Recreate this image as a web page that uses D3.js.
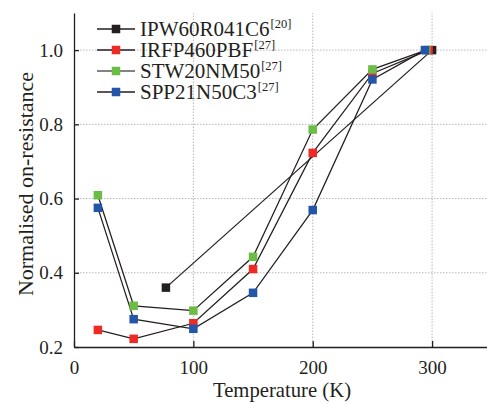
<!doctype html>
<html lang="en">
<head>
    <meta charset="utf-8">
    <title>Normalised on-resistance vs temperature</title>
    <script src="https://d3js.org/d3.v7.min.js"></script>
    <style>
        body { margin: 0; background: #fff; }
        svg text { font-family: "Liberation Serif", "DejaVu Serif", serif; fill: #231f20; }
        .grid line { stroke: #b8b8b8; stroke-width: 1; stroke-dasharray: 1.5,1.5; }
    </style>
</head>
<body>
<script>
    // Data
    const ipwTemp  = [77, 300];
    const ipwRes   = [0.36, 1.0];
    const irfpTemp = [20, 50, 100, 150, 200, 250, 297];
    const irfpRes  = [0.246, 0.222, 0.264, 0.41, 0.723, 0.937, 1.0];
    const stwTemp  = [20, 50, 100, 150, 200, 250, 295];
    const stwRes   = [0.609, 0.311, 0.298, 0.443, 0.786, 0.948, 1.0];
    const sppTemp  = [20, 50, 100, 150, 200, 250, 294];
    const sppRes   = [0.575, 0.275, 0.249, 0.346, 0.569, 0.921, 1.0];

    const seriesNames = ["IPW60R041C6", "IRFP460PBF", "STW20NM50", "SPP21N50C3"];
    const seriesRefs  = ["[20]", "[27]", "[27]", "[27]"];
    const seriesColors = ["#231f20", "#ee2a24", "#6cbd45", "#2356a8"];
    const legendLineColors = ["#231f20", "#231f20", "#5a5a5a", "#231f20"];

    const xTicks = [0, 100, 200, 300];
    const yTicks = [0.2, 0.4, 0.6, 0.8, 1.0];

    const series = [
        { temp: ipwTemp,  res: ipwRes },
        { temp: irfpTemp, res: irfpRes },
        { temp: stwTemp,  res: stwRes },
        { temp: sppTemp,  res: sppRes }
    ].map((s, i) => ({
        name: seriesNames[i],
        ref: seriesRefs[i],
        color: seriesColors[i],
        points: s.temp.map((t, j) => ({ x: t, y: s.res[j] }))
    }));

    // Dimensions
    const width = 487, height = 404;
    const margin = { left: 74, right: 0, top: 13, bottom: 57 };

    const svg = d3.select("body").append("svg")
        .attr("width", width)
        .attr("height", height);

    const x = d3.scaleLinear().domain([0, 346]).range([margin.left, width - margin.right]);
    const y = d3.scaleLinear().domain([0.2, 1.1]).range([height - margin.bottom, margin.top]);

    // Dotted grid
    const grid = svg.append("g").attr("class", "grid");
    grid.selectAll(".gx").data(xTicks.slice(1)).enter().append("line")
        .attr("x1", d => x(d)).attr("x2", d => x(d))
        .attr("y1", y.range()[0]).attr("y2", y.range()[1]);
    grid.selectAll(".gy").data(yTicks.slice(1)).enter().append("line")
        .attr("x1", x.range()[0]).attr("x2", x.range()[1])
        .attr("y1", d => y(d)).attr("y2", d => y(d));

    // Axes (ticks point inward)
    const xAxis = svg.append("g")
        .attr("transform", `translate(0,${y.range()[0]})`)
        .call(d3.axisBottom(x).tickValues(xTicks).tickSize(-6).tickPadding(14).tickSizeOuter(0));
    const yAxis = svg.append("g")
        .attr("transform", `translate(${x.range()[0]},0)`)
        .call(d3.axisLeft(y).tickValues(yTicks).tickFormat(d3.format(".1f")).tickSize(-5).tickPadding(11).tickSizeOuter(0));

    [xAxis, yAxis].forEach(a => {
        a.select(".domain").attr("stroke", "#231f20").attr("stroke-width", 1.3);
        a.selectAll(".tick line").attr("stroke", "#231f20").attr("stroke-width", 1.3);
        a.selectAll(".tick text").attr("font-size", 19).attr("fill", "#231f20")
            .attr("font-family", "Liberation Serif, DejaVu Serif, serif");
    });

    // Axis titles
    svg.append("text")
        .attr("x", 282).attr("y", 397)
        .attr("text-anchor", "middle")
        .attr("font-size", 20.7)
        .text("Temperature (K)");
    svg.append("text")
        .attr("transform", "translate(33,184) rotate(-90)")
        .attr("text-anchor", "middle")
        .attr("font-size", 22)
        .text("Normalised on-resistance");

    // Connecting lines
    const line = d3.line().x(d => x(d.x)).y(d => y(d.y));
    svg.append("g").selectAll("path").data(series).enter().append("path")
        .attr("d", d => line(d.points))
        .attr("fill", "none")
        .attr("stroke", "#231f20")
        .attr("stroke-width", 1.25);

    // Square markers
    const m = 8.5;
    svg.append("g").selectAll("g").data(series).enter().append("g")
        .attr("fill", d => d.color)
        .selectAll("rect").data(d => d.points).enter().append("rect")
        .attr("x", d => x(d.x) - m / 2)
        .attr("y", d => y(d.y) - m / 2)
        .attr("width", m)
        .attr("height", m);

    // Legend
    const legend = svg.append("g").attr("transform", "translate(97,29)");
    const rows = legend.selectAll("g").data(series).enter().append("g")
        .attr("transform", (d, i) => `translate(0,${i * 21})`);
    rows.append("line")
        .attr("x1", 0).attr("x2", 38).attr("y1", 0).attr("y2", 0)
        .attr("stroke", (d, i) => legendLineColors[i])
        .attr("stroke-width", 1.3);
    rows.append("rect")
        .attr("x", 19 - m / 2).attr("y", -m / 2)
        .attr("width", m).attr("height", m)
        .attr("fill", d => d.color);
    rows.append("text")
        .attr("x", 43).attr("y", 7)
        .attr("font-size", 21)
        .text(d => d.name);
    rows.append("text")
        .attr("x", (d, i, n) => 43 + n[i].parentNode.querySelector("text").getComputedTextLength() + 1)
        .attr("y", -1)
        .attr("font-size", 12.5)
        .text(d => d.ref);
</script>
</body>
</html>
